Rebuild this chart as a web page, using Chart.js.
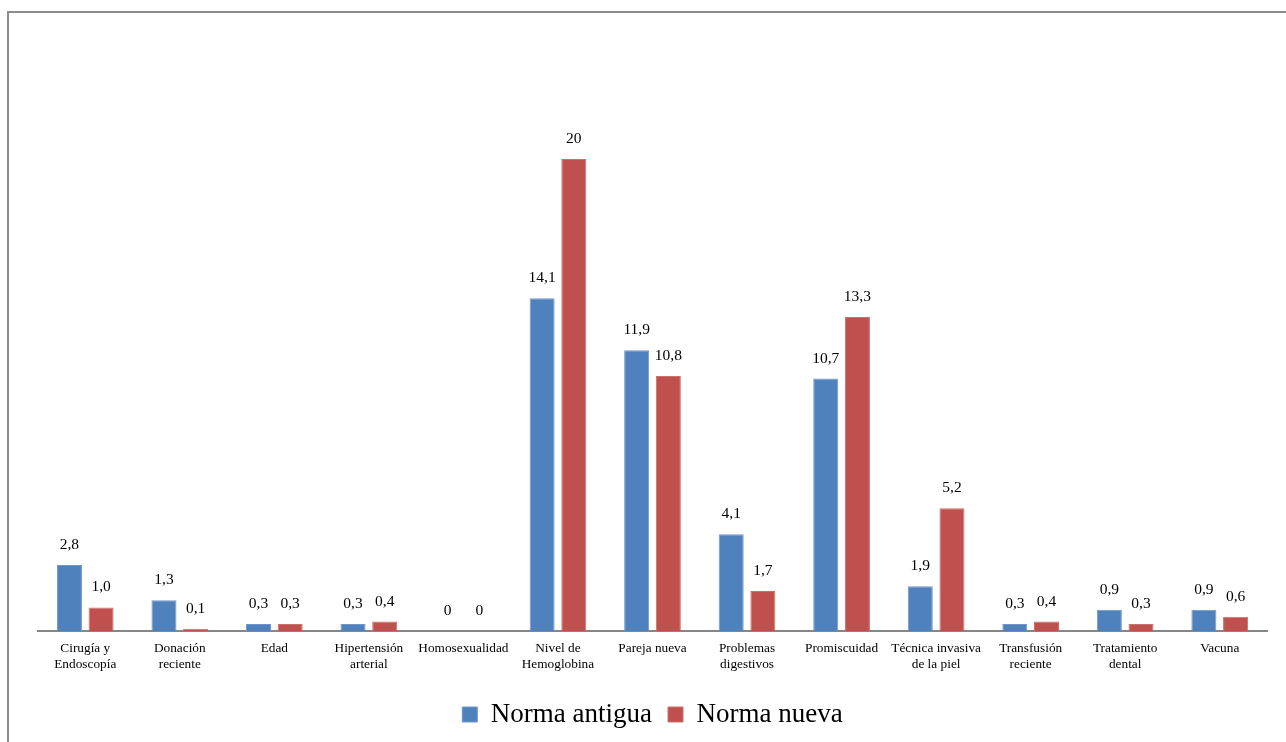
<!DOCTYPE html>
<html lang="es">
<head>
<meta charset="utf-8">
<title>Norma antigua vs Norma nueva</title>
<script src="https://cdn.jsdelivr.net/npm/chart.js@4/dist/chart.umd.min.js"></script>
<style>
  html, body { margin: 0; padding: 0; background: #ffffff; overflow: hidden; }
  #wrap { position: relative; width: 1286px; height: 742px; }
  #frame {
    position: absolute; left: 7px; top: 11px; width: 1400px; height: 900px;
    border: 2px solid #8c8c8c; box-sizing: border-box;
  }
  #chart { position: absolute; left: 0; top: 0; }
</style>
</head>
<body>
<div id="wrap">
  <div id="frame"></div>
  <canvas id="chart" width="1286" height="742"></canvas>
</div>
<script>
// Motivos de exclusión (%) según norma
const categories = [
  ['Cirugía y', 'Endoscopía'],
  ['Donación', 'reciente'],
  'Edad',
  ['Hipertensión', 'arterial'],
  'Homosexualidad',
  ['Nivel de', 'Hemoglobina'],
  'Pareja nueva',
  ['Problemas', 'digestivos'],
  'Promiscuidad',
  ['Técnica invasiva', 'de la piel'],
  ['Transfusión', 'reciente'],
  ['Tratamiento', 'dental'],
  'Vacuna'
];

// Printed values (decimal comma); bar heights are parsed from these
const normaAntigua = ['2,8', '1,3', '0,3', '0,3', '0', '14,1', '11,9', '4,1', '10,7', '1,9', '0,3', '0,9', '0,9'];
const normaNueva   = ['1,0', '0,1', '0,3', '0,4', '0', '20', '10,8', '1,7', '13,3', '5,2', '0,4', '0,3', '0,6'];

const seriesNames = ['Norma antigua', 'Norma nueva'];

const toNumber = s => parseFloat(s.replace(',', '.'));
const printed = [normaAntigua, normaNueva];

const serif = '"Liberation Serif", "Times New Roman", serif';

// Draws the value above each bar
const valueLabels = {
  id: 'valueLabels',
  afterDatasetsDraw(chart) {
    const ctx = chart.ctx;
    ctx.save();
    ctx.font = '15.5px ' + serif;
    ctx.fillStyle = '#000000';
    ctx.textAlign = 'center';
    ctx.textBaseline = 'middle';
    chart.data.datasets.forEach((ds, di) => {
      const meta = chart.getDatasetMeta(di);
      meta.data.forEach((bar, i) => {
        ctx.fillText(printed[di][i], bar.x, bar.y - 20);
      });
    });
    ctx.restore();
  }
};

new Chart(document.getElementById('chart'), {
  type: 'bar',
  data: {
    labels: categories,
    datasets: [
      {
        label: seriesNames[0],
        data: normaAntigua.map(toNumber),
        backgroundColor: '#4f81bd',
        borderColor: '#6f98cb',
        borderWidth: 1
      },
      {
        label: seriesNames[1],
        data: normaNueva.map(toNumber),
        backgroundColor: '#c0504d',
        borderColor: '#cd706d',
        borderWidth: 1
      }
    ]
  },
  options: {
    responsive: false,
    animation: false,
    devicePixelRatio: 1,
    categoryPercentage: 0.67,
    barPercentage: 0.79,
    layout: { padding: { left: 38, right: 19, top: 41, bottom: 4 } },
    scales: {
      x: {
        grid: { display: false, drawTicks: false },
        border: { display: true, color: '#868686', width: 2 },
        ticks: {
          color: '#000000',
          font: { family: serif, size: 13.3, lineHeight: 1.2 },
          padding: 10,
          maxRotation: 0,
          autoSkip: false
        },
        afterFit(scale) { scale.height = 54; }
      },
      y: {
        display: false,
        min: 0,
        max: 25
      }
    },
    plugins: {
      legend: {
        position: 'bottom',
        labels: {
          color: '#000000',
          font: { family: serif, size: 27 },
          boxWidth: 15,
          boxHeight: 15,
          padding: 16
        }
      },
      tooltip: { enabled: false }
    }
  },
  plugins: [valueLabels]
});
</script>
</body>
</html>
